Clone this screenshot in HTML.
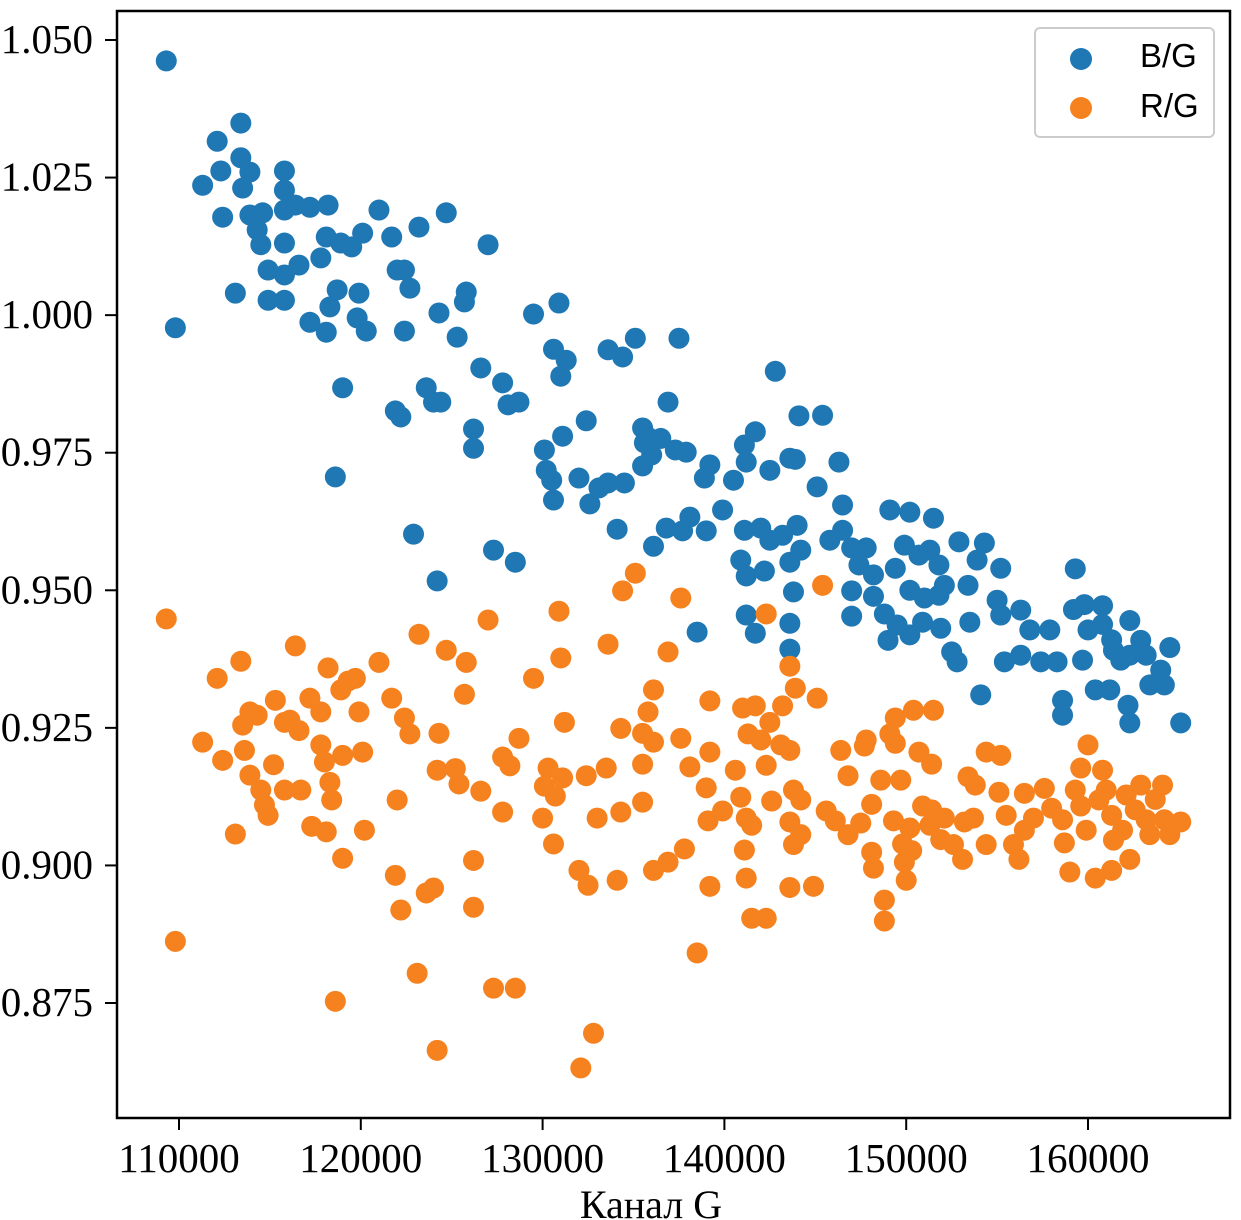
<!DOCTYPE html>
<html><head><meta charset="utf-8"><style>
html,body{margin:0;padding:0;background:#fff;}
svg{display:block;}
text{font-family:"Liberation Serif",serif;fill:#000;}
</style></head><body>
<svg id="chart" width="1241" height="1220">
<rect x="117" y="11" width="1113" height="1107" fill="#fff" stroke="#000" stroke-width="2.5"/>
<g id="marks"></g>
<g id="axes"></g>
<text x="651" y="1218" font-size="40" text-anchor="middle">Канал G</text>
<g>
<rect x="1035" y="28" width="179" height="109" rx="5" fill="#fff" stroke="#ccc" stroke-width="2"/>
<g><circle cx="1081" cy="59" r="11" fill="#1f77b4"/><text x="1140" y="67" font-size="33" style="font-family:'Liberation Sans',sans-serif">B/G</text></g>
<g><circle cx="1081" cy="108" r="11" fill="#f5821f"/><text x="1140" y="117" font-size="33" style="font-family:'Liberation Sans',sans-serif">R/G</text></g>
</g>
</svg>
<script>
const xTicks=[110000,120000,130000,140000,150000,160000];
const yTicks=[0.875,0.900,0.925,0.950,0.975,1.000,1.025,1.050];
const yTickLabels=["0.875","0.900","0.925","0.950","0.975","1.000","1.025","1.050"];
const bgX=[109.3,109.8,113.4,112.1,111.3,112.3,112.4,113.4,113.5,113.9,115.8,113.9,114.3,114.6,115.8,116.4,115.8,117.2,118.2,114.5,115.8,114.9,115.8,116.6,117.8,118.1,118.9,119.5,120.1,121.0,121.7,123.2,124.7,127.0,113.1,114.9,115.8,117.2,118.1,118.3,118.7,119.9,119.8,120.3,122.0,122.4,122.7,122.4,124.3,125.3,125.8,125.7,126.6,127.8,128.1,128.7,129.5,130.9,130.6,131.3,131.0,119.0,123.6,124.0,124.4,121.9,122.2,126.2,126.2,118.6,122.9,124.2,127.3,128.5,130.1,131.1,130.2,130.5,130.6,132.4,132.0,132.6,133.1,133.6,134.5,134.1,133.6,134.4,135.1,137.5,135.5,135.8,135.6,136.5,135.5,136.0,136.9,137.3,137.9,136.1,136.8,137.7,138.1,139.0,139.9,139.2,138.9,138.5,141.1,141.7,141.2,140.5,142.8,144.1,143.6,143.9,142.5,145.4,146.3,145.1,146.5,141.1,142.0,142.5,143.2,144.0,144.2,140.9,141.2,142.2,143.6,143.8,141.2,141.7,143.6,143.6,145.8,146.5,147.0,147.4,147.8,148.2,147.0,148.2,148.8,147.0,149.0,149.1,150.2,151.5,149.9,150.7,151.3,151.8,149.4,150.2,151.0,151.8,152.1,149.5,150.2,150.9,151.9,152.9,153.9,154.3,155.2,153.4,155.0,155.2,156.3,153.5,152.5,152.8,154.1,155.4,156.3,156.8,157.4,157.9,158.3,159.3,158.6,158.6,159.2,159.8,160.0,159.7,160.8,160.8,161.3,160.4,161.2,161.8,162.3,162.9,163.2,162.2,162.3,163.4,164.0,164.2,164.5,165.1,162.3,161.4];
const bgY=[1046.2,997.7,1034.9,1031.6,1023.6,1026.2,1017.8,1028.6,1023.1,1026.0,1026.2,1018.2,1015.5,1018.6,1022.7,1020.0,1019.1,1019.6,1020.0,1012.8,1013.1,1008.2,1007.3,1009.1,1010.4,1014.2,1013.1,1012.4,1014.9,1019.1,1014.2,1016.0,1018.6,1012.8,1004.0,1002.7,1002.7,998.7,996.9,1001.5,1004.6,1004.0,999.5,997.1,1008.2,1008.2,1004.9,997.1,1000.4,996.0,1004.2,1002.4,990.4,987.7,983.7,984.2,1000.2,1002.2,993.8,991.8,988.9,986.8,986.8,984.2,984.2,982.6,981.5,979.3,975.8,970.6,960.2,951.7,957.3,955.1,975.5,978.0,971.8,970.0,966.4,980.8,970.4,965.7,968.6,969.5,969.5,961.1,993.7,992.4,995.8,995.8,979.5,977.8,976.8,977.6,972.6,974.6,984.2,975.5,975.1,958.0,961.3,960.8,963.3,960.8,964.6,972.8,970.4,942.4,976.4,978.8,973.3,970.0,989.8,981.7,974.0,973.8,971.8,981.8,973.3,968.8,965.5,960.9,961.3,959.1,960.0,961.8,957.3,955.5,952.6,953.5,955.1,949.7,945.5,942.2,944.0,939.3,959.1,960.9,957.7,954.6,957.7,952.8,949.9,948.9,945.7,945.3,940.9,964.6,964.2,963.1,958.2,956.4,957.3,954.6,954.0,950.0,948.6,949.1,950.9,943.7,941.9,944.2,943.1,958.8,955.5,958.6,954.0,950.9,948.2,945.5,946.4,944.2,938.8,937.0,931.0,937.0,938.2,942.8,937.0,942.8,937.0,953.9,930.0,927.3,946.5,947.4,942.8,937.3,947.2,943.8,941.0,931.9,931.9,937.3,944.5,940.9,938.2,929.1,925.9,932.8,935.5,932.8,939.6,925.9,938.2,939.1];
const rgX=[109.3,109.8,111.3,112.1,112.4,113.4,113.1,113.5,113.9,114.3,113.6,113.9,114.5,114.7,114.9,115.3,115.8,116.1,116.4,116.6,115.2,115.8,116.7,117.2,117.8,118.2,117.8,118.0,118.3,118.4,117.3,118.1,118.9,119.3,119.7,119.0,120.1,119.9,119.0,118.6,120.2,121.0,121.7,122.4,122.7,122.0,121.9,122.2,123.2,123.1,124.0,123.6,124.3,124.2,124.2,124.7,125.2,125.4,125.8,125.7,126.6,126.2,126.2,127.0,127.3,127.8,128.2,127.8,128.5,128.7,129.5,130.0,130.3,130.1,130.6,130.9,131.0,130.7,131.2,131.1,132.0,132.5,132.1,132.8,132.4,133.0,133.5,133.6,134.4,135.1,134.1,134.3,134.3,135.5,135.5,135.5,135.8,136.1,136.1,136.1,136.9,136.9,137.6,137.6,137.8,138.1,138.5,139.0,139.1,139.2,139.2,139.2,139.9,140.6,141.0,140.9,141.2,141.1,141.2,141.5,141.7,141.3,142.0,142.5,142.3,142.3,141.5,142.3,142.6,143.1,143.2,143.6,143.9,143.6,143.8,143.6,143.8,143.6,144.2,144.2,144.9,145.1,145.4,145.6,146.1,146.4,146.8,146.8,147.5,147.7,147.8,148.1,148.1,148.2,148.8,148.8,148.6,149.1,149.4,149.4,149.7,149.3,149.8,150.2,150.3,150.0,149.9,150.4,150.7,150.9,151.4,151.5,151.4,151.9,151.3,152.1,152.6,153.1,153.2,153.4,153.8,153.7,154.4,155.2,154.4,155.1,155.5,155.9,156.2,156.5,156.5,157.0,157.6,158.0,158.6,158.7,159.0,159.3,159.6,160.0,159.6,159.9,160.4,160.6,160.8,161.0,161.3,161.4,161.3,161.9,162.1,162.3,162.6,162.9,163.2,163.4,163.7,164.1,164.2,164.5,165.1];
const rgY=[944.8,886.2,922.4,934.0,919.1,937.1,905.7,925.5,927.9,927.3,920.9,916.4,913.7,911.0,909.1,930.0,926.0,926.4,939.9,924.5,918.3,913.7,913.7,930.4,927.9,935.9,921.9,918.8,915.1,911.9,907.1,906.1,931.9,933.5,934.0,920.0,920.6,927.9,901.3,875.3,906.4,936.9,930.4,926.8,923.9,911.9,898.2,891.9,942.0,880.4,895.9,895.0,924.0,917.3,866.4,939.1,917.6,914.8,936.9,931.1,913.5,900.9,892.4,944.6,877.7,919.7,918.1,909.7,877.7,923.1,934.0,908.6,917.7,914.4,903.9,946.2,937.7,912.6,926.0,915.9,899.1,896.4,863.2,869.5,916.3,908.6,917.7,940.2,949.9,953.1,897.3,909.7,924.9,924.0,918.4,911.5,927.9,931.9,922.4,899.1,900.6,938.8,948.6,923.1,903.0,917.9,884.1,914.1,908.1,920.6,896.2,929.9,909.9,917.3,928.6,912.4,908.6,902.8,897.7,907.3,929.0,923.9,922.8,926.0,945.7,918.2,890.4,890.4,911.7,921.9,929.0,936.2,932.2,920.9,913.7,907.9,903.8,896.0,905.6,911.9,896.2,930.4,950.9,909.9,908.1,920.9,916.3,905.6,907.7,921.7,922.8,911.1,902.4,899.5,893.7,889.9,915.5,923.9,926.8,922.2,915.5,908.1,903.9,906.8,902.7,897.3,900.6,928.2,920.6,910.8,910.1,928.2,918.4,904.7,907.3,908.6,903.8,901.1,907.9,916.1,914.6,908.6,920.6,920.0,903.8,913.3,909.1,903.8,901.1,913.1,906.4,908.6,914.0,910.4,908.3,904.1,898.8,913.7,917.7,921.9,910.8,906.4,897.7,911.9,917.3,913.7,909.1,904.6,899.1,906.4,912.8,901.1,910.1,914.6,908.3,905.6,912.0,914.6,908.3,905.6,907.9];

const NS='http://www.w3.org/2000/svg';
function xScale(v){return 179+(v-110000)*(909/50000);}
function yScale(v){return 40+(1.050-v)*(963/0.175);}
const marks=document.getElementById('marks');
const axes=document.getElementById('axes');
function drawSeries(xs,ys,color,name){
  const g=document.createElementNS(NS,'g');
  
  
  for(let i=0;i<xs.length;i++){
    const c=document.createElementNS(NS,'circle');
    c.setAttribute('cx',xScale(xs[i]*1000));
    c.setAttribute('cy',yScale(ys[i]/1000));
    c.setAttribute('r',10.5);
    c.setAttribute('fill',color);
    
    
    g.appendChild(c);
  }
  marks.appendChild(g);
}
drawSeries(bgX,bgY,'#1f77b4','series-bg');
drawSeries(rgX,rgY,'#f5821f','series-rg');
xTicks.forEach(v=>{
  const x=xScale(v);
  const l=document.createElementNS(NS,'line');
  l.setAttribute('x1',x);l.setAttribute('x2',x);l.setAttribute('y1',1118);l.setAttribute('y2',1130);
  l.setAttribute('stroke','#000');l.setAttribute('stroke-width','2');
  
  
  axes.appendChild(l);
  const t=document.createElementNS(NS,'text');
  t.setAttribute('x',x);t.setAttribute('y',1172);t.setAttribute('font-size','41');t.setAttribute('text-anchor','middle');
  t.textContent=String(v);
  
  
  axes.appendChild(t);
});
yTicks.forEach((v,i)=>{
  const y=yScale(v);
  const l=document.createElementNS(NS,'line');
  l.setAttribute('x1',105);l.setAttribute('x2',117);l.setAttribute('y1',y);l.setAttribute('y2',y);
  l.setAttribute('stroke','#000');l.setAttribute('stroke-width','2');
  
  
  axes.appendChild(l);
  const t=document.createElementNS(NS,'text');
  t.setAttribute('x',93);t.setAttribute('y',y+13);t.setAttribute('font-size','41');t.setAttribute('text-anchor','end');
  t.textContent=yTickLabels[i];
  
  
  axes.appendChild(t);
});
</script>
</body></html>
